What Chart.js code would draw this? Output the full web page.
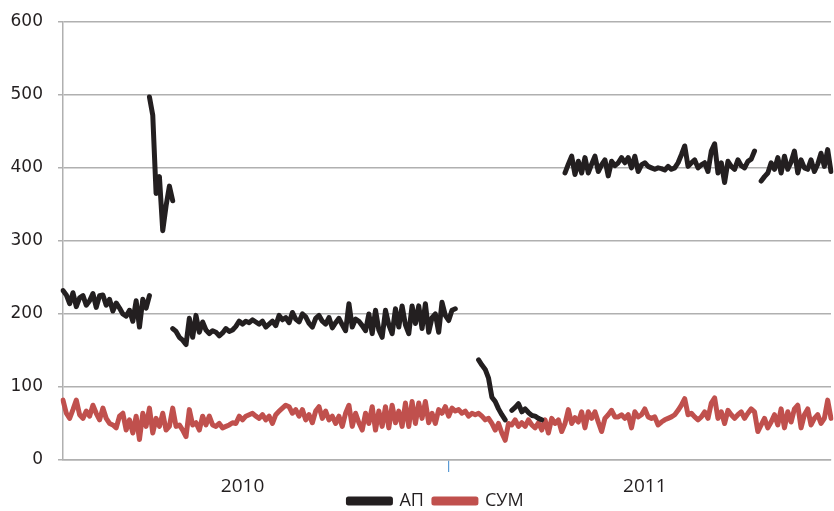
<!DOCTYPE html>
<html>
<head>
<meta charset="utf-8">
<script src="https://cdn.jsdelivr.net/npm/chart.js@4/dist/chart.umd.min.js"></script>
<style>
    html, body { margin: 0; padding: 0; background: #ffffff; overflow: hidden; }
    #wrap { position: relative; width: 834px; height: 538px; }
</style>
</head>
<body>
<div id="wrap"><canvas id="myChart"></canvas></div>
<script>
// valores, un punto cada ~3 dias (2010 - 2011)
const yearLabels = ['2010', '2011'];
const yearLabelIndex = [54, 175];
const yearBoundaryIndex = 116;

const apValues = [
    232, 226, 214, 229, 210, 222, 225, 212, 218, 228, 209, 225, 226, 212, 220, 204, 215, 208, 200, 197,
    205, 190, 218, 182, 220, 208, 225, null, null, null, null, null, null, 180, 176, 168, 164, 158, 194, 168,
    198, 175, 189, 178, 173, 177, 175, 170, 174, 180, 176, 178, 183, 190, 186, 190, 188, 192, 189, 186,
    190, 182, 186, 190, 184, 198, 192, 195, 188, 202, 193, 189, 200, 196, 187, 182, 194, 198, 190, 186,
    195, 181, 188, 194, 185, 177, 214, 182, 193, 190, 184, 177, 200, 173, 205, 178, 168, 205, 185, 173,
    207, 182, 211, 185, 173, 211, 187, 211, 180, 214, 175, 195, 200, 175, 216, 198, 191, 205, 207, null,
    null, null, null, null, null, 137, 130, 124, 112, 86, 80, 70, 62, 55, null, 68, 72, 77, 66, 70,
    65, 61, 60, 57, 55, null, null, null, null, null, null, 393, 405, 416, 391, 409, 393, 414, 393, 405,
    416, 395, 404, 411, 389, 409, 403, 407, 414, 407, 414, 400, 416, 395, 404, 407, 402, 400, 398, 400,
    399, 397, 402, 398, 400, 407, 418, 430, 402, 407, 411, 400, 404, 407, 395, 423, 433, 393, 407, 380,
    409, 402, 398, 411, 403, 400, 409, 412, 423, null, 382, 388, 393, 407, 398, 414, 393, 416, 398, 408,
    423, 393, 411, 400, 398, 411, 395, 405, 420, 402, 425, 395
];

// pico de principios de 2010 (se dibuja aparte para no unirlo con los tramos vecinos)
const apSpikeStart = 26;
const apSpike = [497, 472, 365, 388, 314, 348, 375, 355];

const sumValues = [
    82, 64, 57, 69, 82, 62, 57, 67, 60, 75, 64, 55, 71, 57, 50, 48, 44, 60, 64, 41,
    55, 37, 60, 28, 64, 46, 71, 37, 57, 46, 64, 41, 46, 71, 46, 48, 41, 32, 69, 48,
    51, 41, 60, 48, 60, 48, 46, 50, 44, 46, 48, 51, 50, 60, 55, 60, 62, 64, 60, 57,
    62, 55, 60, 50, 62, 67, 71, 75, 73, 64, 69, 60, 69, 55, 62, 51, 67, 73, 57, 67,
    55, 60, 50, 60, 46, 64, 75, 46, 64, 51, 41, 64, 50, 73, 41, 67, 46, 73, 44, 75,
    51, 67, 46, 78, 46, 80, 50, 78, 57, 80, 51, 64, 50, 69, 64, 73, 60, 71, 67, 69,
    64, 67, 60, 64, 62, 64, 60, 55, 57, 50, 41, 50, 37, 27, 50, 48, 55, 46, 51, 46,
    55, 48, 44, 51, 41, 55, 37, 57, 50, 55, 39, 50, 69, 50, 58, 52, 66, 44, 66, 57,
    66, 52, 39, 57, 62, 68, 59, 59, 62, 57, 62, 44, 66, 59, 62, 70, 59, 57, 59, 48,
    52, 55, 57, 59, 62, 68, 75, 84, 62, 64, 59, 55, 59, 66, 57, 78, 85, 57, 66, 50,
    68, 62, 57, 62, 66, 57, 64, 70, 66, 39, 48, 57, 44, 52, 62, 48, 70, 44, 66, 52,
    70, 75, 44, 62, 70, 48, 57, 62, 50, 57, 82, 57
];

const yTicks = [0, 100, 200, 300, 400, 500, 600];

const labels = sumValues.map((v, i) => i);
const apSpikeData = labels.map(i => {
    const k = i - apSpikeStart;
    return (k >= 0 && k < apSpike.length) ? apSpike[k] : null;
});

const gridGray = '#b0b0b0';
const textColor = '#231f20';

// sube la leyenda para que quede pegada bajo los anos, como en el original
const legendShift = {
    id: 'legendShift',
    afterLayout(chart) {
        const lg = chart.legend;
        lg.left += 19;
        lg.right += 19;
        lg.top -= 18;
        lg.bottom -= 18;
    }
};

let myChart = null;

function drawChart() {
    var ctx = document.getElementById('myChart');

    myChart = new Chart(ctx, {
        type: 'line',
        data: {
            labels: labels,
            datasets: [{
                label: 'АП',
                data: apValues,
                borderColor: '#231f20',
                backgroundColor: '#231f20',
                borderWidth: 5
            }, {
                label: 'СУМ',
                data: sumValues,
                borderColor: '#c0504d',
                backgroundColor: '#c0504d',
                borderWidth: 5
            }, {
                label: 'АП',
                data: apSpikeData,
                borderColor: '#231f20',
                backgroundColor: '#231f20',
                borderWidth: 5
            }]
        },
        plugins: [legendShift],
        options: {
            responsive: true,
            maintainAspectRatio: false,
            animation: false,
            spanGaps: false,
            elements: {
                point: { radius: 0, hoverRadius: 0 },
                line: { tension: 0, borderJoinStyle: 'round', borderCapStyle: 'round' }
            },
            layout: { padding: { top: 0, left: 0, right: 0, bottom: 0 } },
            plugins: {
                tooltip: { enabled: false },
                legend: {
                    position: 'bottom',
                    labels: {
                        filter: item => item.datasetIndex !== 2,
                        boxWidth: 42,
                        boxHeight: 4,
                        padding: 10,
                        color: textColor,
                        font: { family: 'Open Sans', size: 18 }
                    }
                }
            },
            scales: {
                x: {
                    type: 'category',
                    afterFit: scale => { scale.height = 40; },
                    border: { color: gridGray, width: 1.5 },
                    grid: {
                        drawOnChartArea: false,
                        tickLength: 12,
                        lineWidth: 1.2,
                        color: c => c.index === yearBoundaryIndex ? '#5b9bd5' : 'rgba(0,0,0,0)'
                    },
                    ticks: {
                        autoSkip: false,
                        maxRotation: 0,
                        minRotation: 0,
                        padding: 3,
                        color: textColor,
                        font: { family: 'Open Sans', size: 19 },
                        callback: (value, index) => {
                            const k = yearLabelIndex.indexOf(index);
                            return k >= 0 ? yearLabels[k] : '';
                        }
                    }
                },
                y: {
                    min: 0,
                    max: 600,
                    afterFit: scale => { scale.width = 63; },
                    afterBuildTicks: scale => { scale.ticks = yTicks.map(v => ({ value: v })); },
                    border: { color: gridGray, width: 1.5 },
                    grid: {
                        color: gridGray,
                        lineWidth: 1.5,
                        tickLength: 5
                    },
                    ticks: {
                        padding: 15,
                        color: textColor,
                        font: { family: 'DejaVu Sans', size: 17, lineHeight: 0.8 }
                    }
                }
            }
        }
    });
}

drawChart();
</script>
</body>
</html>
